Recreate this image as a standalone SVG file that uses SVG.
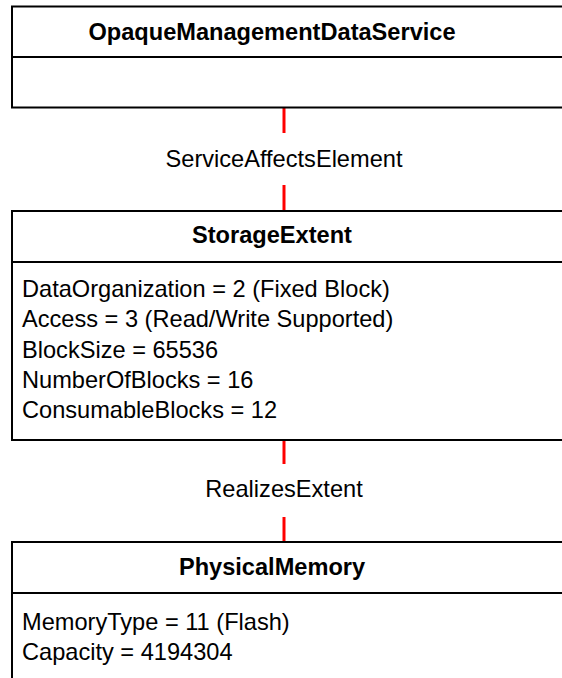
<svg xmlns="http://www.w3.org/2000/svg" width="562" height="678" viewBox="0 0 562 678">
<style>
.box{fill:#fff;stroke:#000;stroke-width:2}
.div{stroke:#000;stroke-width:2}
.title{font-family:"Liberation Sans",Arial,sans-serif;font-size:23.6px;font-weight:bold;fill:#000;text-anchor:middle}
.attr{font-family:"Liberation Sans",Arial,sans-serif;font-size:23.6px;fill:#000}
.lbl{font-family:"Liberation Sans",Arial,sans-serif;font-size:23.6px;fill:#000;text-anchor:middle}
.conn{stroke:#f00;stroke-width:3;fill:none}
</style>
<rect x="0" y="0" width="562" height="678" fill="#fff"/>
<g id="connectors">
<line class="conn" x1="284" y1="108" x2="284" y2="133"/>
<line class="conn" x1="284" y1="185" x2="284" y2="211"/>
<text class="lbl" x="284" y="167">ServiceAffectsElement</text>
<line class="conn" x1="284" y1="441" x2="284" y2="464"/>
<line class="conn" x1="284" y1="517" x2="284" y2="542"/>
<text class="lbl" x="284" y="497">RealizesExtent</text>
</g>
<g id="OpaqueManagementDataService">
<rect class="box" x="12" y="6.5" width="600" height="101"/>
<line class="div" x1="12" y1="57" x2="600" y2="57"/>
<text class="title" x="272" y="40">OpaqueManagementDataService</text>
</g>
<g id="StorageExtent">
<rect class="box" x="12" y="211" width="600" height="229"/>
<line class="div" x1="12" y1="262" x2="600" y2="262"/>
<text class="title" x="272" y="243">StorageExtent</text>
<text class="attr" x="22" y="297">DataOrganization = 2 (Fixed Block)</text>
<text class="attr" x="22" y="327.3">Access = 3 (Read/Write Supported)</text>
<text class="attr" x="22" y="357.6">BlockSize = 65536</text>
<text class="attr" x="22" y="387.9">NumberOfBlocks = 16</text>
<text class="attr" x="22" y="418.2">ConsumableBlocks = 12</text>
</g>
<g id="PhysicalMemory">
<rect class="box" x="12" y="542" width="600" height="200"/>
<line class="div" x1="12" y1="593" x2="600" y2="593"/>
<text class="title" x="272" y="574.5">PhysicalMemory</text>
<text class="attr" x="22" y="629.5">MemoryType = 11 (Flash)</text>
<text class="attr" x="22" y="659.5">Capacity = 4194304</text>
</g>
</svg>
